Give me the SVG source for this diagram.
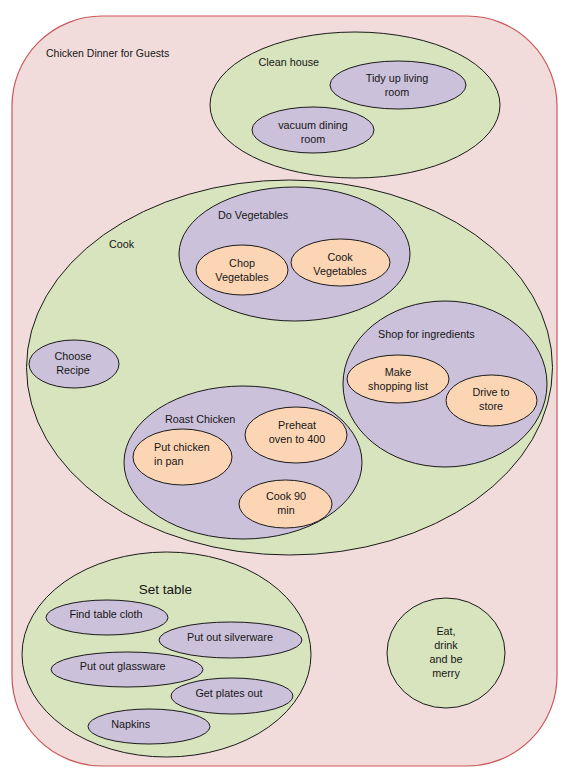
<svg xmlns="http://www.w3.org/2000/svg" width="574" height="779" viewBox="0 0 574 779">
<style>
.outer{fill:#F2DCDB;stroke:#C9575A;stroke-width:1.2}
.e{stroke:#1a1a1a;stroke-width:1}
.g{fill:#D7E4BD}
.p{fill:#CCC1DA}
.o{fill:#FCD5B5}
text{font-family:"Liberation Sans",Arial,sans-serif;font-size:10.8px;fill:#161616}
.c{text-anchor:middle}
.big{font-size:13.5px}
</style>
<rect width="574" height="779" fill="#ffffff"/>
<g id="chicken-dinner">
  <rect class="outer" x="12" y="16" width="545" height="750" rx="90" ry="90"/>
  <text x="46" y="56.5" style="font-size:10.5px">Chicken Dinner for Guests</text>
</g>
<g id="clean-house">
  <ellipse class="e g" cx="355" cy="105" rx="145" ry="73"/>
  <text x="258.5" y="66">Clean house</text>
</g>
<g id="tidy-up">
  <ellipse class="e p" cx="398" cy="85" rx="68" ry="24"/>
  <text class="c" x="397" y="82">Tidy up living</text>
  <text class="c" x="397" y="95.7">room</text>
</g>
<g id="vacuum">
  <ellipse class="e p" cx="313" cy="130" rx="61" ry="23"/>
  <text class="c" x="313" y="129.3">vacuum dining</text>
  <text class="c" x="313" y="142.7">room</text>
</g>
<g id="cook">
  <ellipse class="e g" cx="289.5" cy="367.5" rx="263" ry="187.5"/>
  <text x="109" y="247.7">Cook</text>
</g>
<g id="do-vegetables">
  <ellipse class="e p" cx="294.5" cy="254" rx="115.5" ry="67"/>
  <text x="218" y="219">Do Vegetables</text>
</g>
<g id="chop-vegetables">
  <ellipse class="e o" cx="242" cy="270" rx="46" ry="25"/>
  <text class="c" x="242" y="266.7">Chop</text>
  <text class="c" x="242" y="280.7">Vegetables</text>
</g>
<g id="cook-vegetables">
  <ellipse class="e o" cx="340.5" cy="262.5" rx="49.5" ry="23.5"/>
  <text class="c" x="340" y="261">Cook</text>
  <text class="c" x="340" y="275">Vegetables</text>
</g>
<g id="choose-recipe">
  <ellipse class="e p" cx="74" cy="364" rx="45" ry="24"/>
  <text class="c" x="73" y="360">Choose</text>
  <text class="c" x="73" y="374">Recipe</text>
</g>
<g id="shop-ingredients">
  <ellipse class="e p" cx="445" cy="384" rx="102" ry="83"/>
  <text x="378" y="337.7">Shop for ingredients</text>
</g>
<g id="make-list">
  <ellipse class="e o" cx="398" cy="379" rx="51" ry="24"/>
  <text class="c" x="398" y="376">Make</text>
  <text class="c" x="398" y="390">shopping list</text>
</g>
<g id="drive-store">
  <ellipse class="e o" cx="491.5" cy="400.5" rx="45.5" ry="25.5"/>
  <text class="c" x="491" y="396">Drive to</text>
  <text class="c" x="491" y="410">store</text>
</g>
<g id="roast-chicken">
  <ellipse class="e p" cx="243" cy="462.5" rx="119" ry="76.5"/>
  <text x="165" y="422.7">Roast Chicken</text>
</g>
<g id="put-chicken">
  <ellipse class="e o" cx="182.5" cy="457" rx="49.5" ry="28"/>
  <text x="154" y="451">Put chicken</text>
  <text x="154" y="465">in pan</text>
</g>
<g id="preheat">
  <ellipse class="e o" cx="296" cy="435" rx="51" ry="28"/>
  <text class="c" x="297" y="429">Preheat</text>
  <text class="c" x="297" y="443">oven to 400</text>
</g>
<g id="cook-90">
  <ellipse class="e o" cx="285.5" cy="504" rx="46.5" ry="24"/>
  <text class="c" x="286" y="500">Cook 90</text>
  <text class="c" x="286" y="514">min</text>
</g>
<g id="set-table">
  <ellipse class="e g" cx="166.5" cy="654.5" rx="144.5" ry="102.5"/>
  <text class="c big" x="165.5" y="594">Set table</text>
</g>
<g id="table-cloth">
  <ellipse class="e p" cx="107" cy="617.5" rx="61" ry="17.5"/>
  <text class="c" x="106" y="618">Find table cloth</text>
</g>
<g id="silverware">
  <ellipse class="e p" cx="230.5" cy="640" rx="71.5" ry="18"/>
  <text class="c" x="230" y="640.7">Put out silverware</text>
</g>
<g id="glassware">
  <ellipse class="e p" cx="127" cy="669.5" rx="76" ry="17.5"/>
  <text class="c" x="122.7" y="670">Put out glassware</text>
</g>
<g id="plates">
  <ellipse class="e p" cx="232" cy="696" rx="61" ry="18"/>
  <text class="c" x="229" y="696.7">Get plates out</text>
</g>
<g id="napkins">
  <ellipse class="e p" cx="149" cy="726.5" rx="61" ry="17.5"/>
  <text class="c" x="130.7" y="727.7">Napkins</text>
</g>
<g id="eat-drink">
  <ellipse class="e g" cx="446" cy="653" rx="59" ry="55"/>
  <text class="c" x="446" y="635">Eat,</text>
  <text class="c" x="446" y="649">drink</text>
  <text class="c" x="446" y="663">and be</text>
  <text class="c" x="446" y="677">merry</text>
</g>
<g id="connectors"/>
</svg>
